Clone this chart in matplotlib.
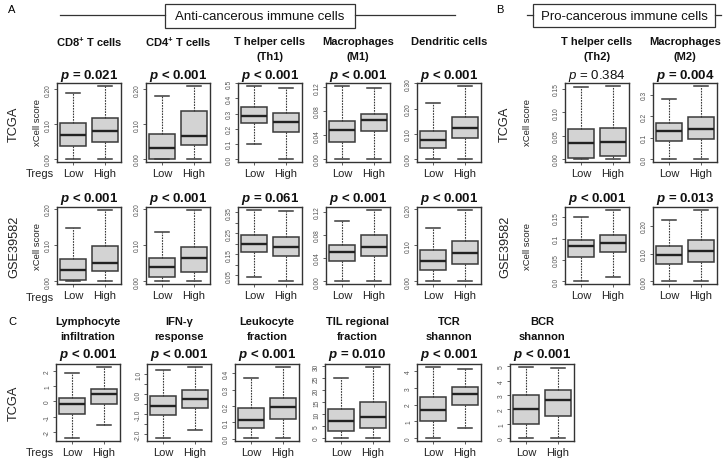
import matplotlib.pyplot as plt
from matplotlib.patches import Rectangle

plt.rcParams['font.family'] = ['Liberation Sans', 'DejaVu Sans']
plt.rcParams['mathtext.fontset'] = 'custom'
plt.rcParams['mathtext.it'] = 'Liberation Sans:italic:bold'
plt.rcParams['mathtext.sf'] = 'Liberation Sans:italic'
plt.rcParams['mathtext.rm'] = 'Liberation Sans:bold'

# box stats per panel: [whisker low, Q1, median, Q3, whisker high]
row1_titles = [r'CD8$^{\mathrm{+}}$ T cells', r'CD4$^{\mathrm{+}}$ T cells', 'T helper cells\n(Th1)',
               'Macrophages\n(M1)', 'Dendritic cells', 'T helper cells\n(Th2)', 'Macrophages\n(M2)']
row1_p = ['= 0.021', '< 0.001', '< 0.001', '< 0.001', '< 0.001', '= 0.384', '= 0.004']
row1_low = [[0, 0.038, 0.069, 0.104, 0.19], [0, 0, 0.032, 0.072, 0.181], [0.10, 0.24, 0.286, 0.345, 0.483],
            [0, 0.028, 0.048, 0.064, 0.122], [0, 0.042, 0.076, 0.112, 0.223], [0, 0.002, 0.034, 0.064, 0.153],
            [0, 0.086, 0.13, 0.169, 0.28]]
row1_high = [[0, 0.048, 0.080, 0.117, 0.21], [0, 0.040, 0.066, 0.138, 0.21], [0, 0.179, 0.245, 0.304, 0.47],
             [0, 0.046, 0.065, 0.076, 0.118], [0, 0.082, 0.125, 0.167, 0.29], [0, 0.007, 0.036, 0.066, 0.156],
             [0, 0.094, 0.141, 0.196, 0.34]]
row1_ticks = [[0, 0.1, 0.2], [0, 0.1, 0.2], [0, 0.1, 0.2, 0.3, 0.4, 0.5], [0, 0.04, 0.08, 0.12],
              [0, 0.1, 0.2, 0.3], [0, 0.05, 0.1, 0.15], [0, 0.1, 0.2, 0.3]]
row1_labels = [['0.00', '0.10', '0.20'], ['0.00', '0.10', '0.20'], ['0.0', '0.1', '0.2', '0.3', '0.4', '0.5'],
               ['0.00', '0.04', '0.08', '0.12'], ['0.00', '0.10', '0.20', '0.30'],
               ['0.00', '0.05', '0.10', '0.15'], ['0.0', '0.1', '0.2', '0.3']]

row2_p = ['< 0.001', '< 0.001', '= 0.061', '< 0.001', '< 0.001', '< 0.001', '= 0.013']
row2_low = [[0, 0.004, 0.030, 0.061, 0.146], [0, 0.012, 0.038, 0.064, 0.135], [0.043, 0.159, 0.201, 0.243, 0.362],
            [0, 0.035, 0.050, 0.062, 0.104], [0, 0.031, 0.055, 0.087, 0.147], [0, 0.058, 0.082, 0.098, 0.151],
            [0, 0.062, 0.096, 0.128, 0.223]]
row2_high = [[0, 0.027, 0.051, 0.096, 0.197], [0, 0.024, 0.065, 0.094, 0.197], [0.022, 0.143, 0.186, 0.232, 0.357],
             [0, 0.043, 0.059, 0.079, 0.123], [0, 0.047, 0.078, 0.112, 0.198], [0.010, 0.069, 0.090, 0.109, 0.168],
             [0, 0.070, 0.110, 0.149, 0.258]]
row2_ticks = [[0, 0.1, 0.2], [0, 0.1, 0.2], [0.05, 0.1, 0.15, 0.2, 0.25, 0.3, 0.35], [0, 0.04, 0.08, 0.12],
              [0, 0.1, 0.2], [0, 0.05, 0.1, 0.15], [0, 0.1, 0.2]]
row2_labels = [['0.00', '0.10', '0.20'], ['0.00', '0.10', '0.20'], ['0.05', '', '0.15', '', '0.25', '', '0.35'],
               ['0.00', '0.04', '0.08', '0.12'], ['0.00', '0.10', '0.20'], ['0.0', '0.05', '0.1', '0.15'],
               ['0.00', '0.10', '0.20']]

row3_titles = ['Lymphocyte\ninfiltration', 'IFN-γ\nresponse', 'Leukocyte\nfraction', 'TIL regional\nfraction',
               'TCR\nshannon', 'BCR\nshannon']
row3_p = ['< 0.001', '< 0.001', '< 0.001', '= 0.010', '< 0.001', '< 0.001']
row3_low = [[-2.38, -0.83, -0.18, 0.21, 1.84], [-2.2, -1.02, -0.61, -0.08, 1.2], [0.004, 0.066, 0.114, 0.186, 0.37],
            [0, 2.8, 7.2, 12.3, 25.2], [0, 1.0, 1.68, 2.43, 4.25], [0, 1.0, 2.03, 3.03, 4.96]]
row3_high = [[-1.52, -0.13, 0.47, 0.84, 2.25], [-1.79, -0.69, -0.23, 0.18, 1.36], [0.004, 0.12, 0.196, 0.25, 0.44],
             [0, 4.1, 9.0, 15.2, 29.8], [0.6, 1.95, 2.65, 3.05, 4.13], [0, 1.56, 2.63, 3.38, 4.9]]
row3_ticks = [[-2, -1, 0, 1, 2], [-2, -1.5, -1, -0.5, 0, 0.5, 1], [0, 0.1, 0.2, 0.3, 0.4],
              [0, 5, 10, 15, 20, 25, 30], [0, 1, 2, 3, 4], [0, 1, 2, 3, 4, 5]]
row3_labels = [['-2', '-1', '0', '1', '2'], ['-2.0', '', '-1.0', '', '0.0', '', '1.0'],
               ['0.0', '0.1', '0.2', '0.3', '0.4'], ['0', '5', '10', '15', '20', '25', '30'],
               ['0', '1', '2', '3', '4'], ['0', '1', '2', '3', '4', '5']]
groups = ['Low', 'High']

# layout in pixels
W, H = 728, 464
ab_left = [57, 146, 238, 326, 417, 565, 653]
c_left = [56, 147, 235, 325, 417, 510]
pw = 64

fig = plt.figure(figsize=(7.28, 4.64), dpi=100)
over = fig.add_axes([0, 0, 1, 1])
over.set_xlim(0, W)
over.set_ylim(H, 0)
over.axis('off')


def panel(x0, y0, y1, low, high, ticks, labels):
    ax = fig.add_axes([x0 / W, 1 - y1 / H, pw / W, (y1 - y0) / H])
    stats = [dict(whislo=s[0], q1=s[1], med=s[2], q3=s[3], whishi=s[4], fliers=[]) for s in (low, high)]
    ax.bxp(stats, positions=[1, 2], widths=0.8, patch_artist=True, showfliers=False, capwidths=0.42,
           boxprops=dict(facecolor='#d3d3d3', edgecolor='#3a3a3a', linewidth=1.1),
           medianprops=dict(color='#222222', linewidth=1.7),
           whiskerprops=dict(color='#3a3a3a', linewidth=0.8, linestyle=(0, (1.5, 1))),
           capprops=dict(color='#3a3a3a', linewidth=1.1))
    lo = min(low[0], high[0])
    hi = max(low[4], high[4])
    pad = 0.04 * (hi - lo)
    ax.set_ylim(lo - pad, hi + pad)
    ax.set_xlim(0.5, 2.5)
    ax.set_yticks(ticks, labels)
    ax.set_xticks([1, 2], groups)
    ax.tick_params(axis='y', labelsize=4.8, labelcolor='#555555', length=2.5, width=0.6,
                   color='#444444', pad=1, labelrotation=90)
    for t in ax.get_yticklabels():
        t.set_va('center')
    ax.tick_params(axis='x', labelsize=8, labelcolor='#222222', length=2.5, width=0.6,
                   color='#444444', pad=1.5)
    for sp in ax.spines.values():
        sp.set_linewidth(1.0)
        sp.set_color('#333333')
    return ax


def ptext(x, y, p, bold=True):
    if bold:
        over.text(x, y, r'$p$ ' + p, fontsize=9.5, fontweight='bold', ha='center', va='center', color='#111111')
    else:
        over.text(x, y, r'$\mathsf{p}$ ' + p, fontsize=9.5, ha='center', va='center', color='#111111')


def title(x, y, s, dy):
    for i, line in enumerate(s.split('\n')):
        over.text(x, y + i * dy, line, fontsize=8, fontweight='bold', ha='center', va='center', color='#111111')


for i in range(7):
    cx = ab_left[i] + pw / 2
    panel(ab_left[i], 84, 163, row1_low[i], row1_high[i], row1_ticks[i], row1_labels[i])
    panel(ab_left[i], 208, 285, row2_low[i], row2_high[i], row2_ticks[i], row2_labels[i])
    title(cx, 42, row1_titles[i], 15)
    ptext(cx, 76, row1_p[i], bold=(i != 5))
    ptext(cx, 199, row2_p[i])

for i in range(6):
    cx = c_left[i] + pw / 2
    panel(c_left[i], 365, 442, row3_low[i], row3_high[i], row3_ticks[i], row3_labels[i])
    title(cx, 322, row3_titles[i], 15)
    ptext(cx, 355, row3_p[i])

# headers
over.text(12, 10, 'A', fontsize=8, ha='center', va='center')
over.add_patch(Rectangle((165, 5), 190, 24, fill=False, edgecolor='#333333', linewidth=0.9))
over.text(260, 17, 'Anti-cancerous immune cells', fontsize=9.5, ha='center', va='center', color='#111111')
over.plot([60, 165], [16, 16], color='#333333', linewidth=0.9)
over.plot([355, 455], [16, 16], color='#333333', linewidth=0.9)

over.text(500, 10, 'B', fontsize=8, ha='center', va='center')
over.add_patch(Rectangle((533, 5), 182, 23, fill=False, edgecolor='#333333', linewidth=0.9))
over.text(624, 16.5, 'Pro-cancerous immune cells', fontsize=9.5, ha='center', va='center', color='#111111')
over.plot([527, 533], [16, 16], color='#333333', linewidth=0.9)
over.plot([715, 721], [16, 16], color='#333333', linewidth=0.9)

over.text(12, 322, 'C', fontsize=8, ha='center', va='center')

for x, y, s in [(14, 124, 'TCGA'), (14, 247, 'GSE39582'), (14, 403, 'TCGA'),
                (505, 124, 'TCGA'), (505, 247, 'GSE39582')]:
    over.text(x, y, s, fontsize=9.2, rotation=90, ha='center', va='center', color='#222222')
for x, y in [(38, 122), (38, 247), (528, 122), (528, 247)]:
    over.text(x, y, 'xCell score', fontsize=6.8, rotation=90, ha='center', va='center', color='#222222')
for y in [174, 298, 453]:
    over.text(40, y, 'Tregs', fontsize=8, ha='center', va='center', color='#222222')

fig.savefig('out.png', dpi=100)
